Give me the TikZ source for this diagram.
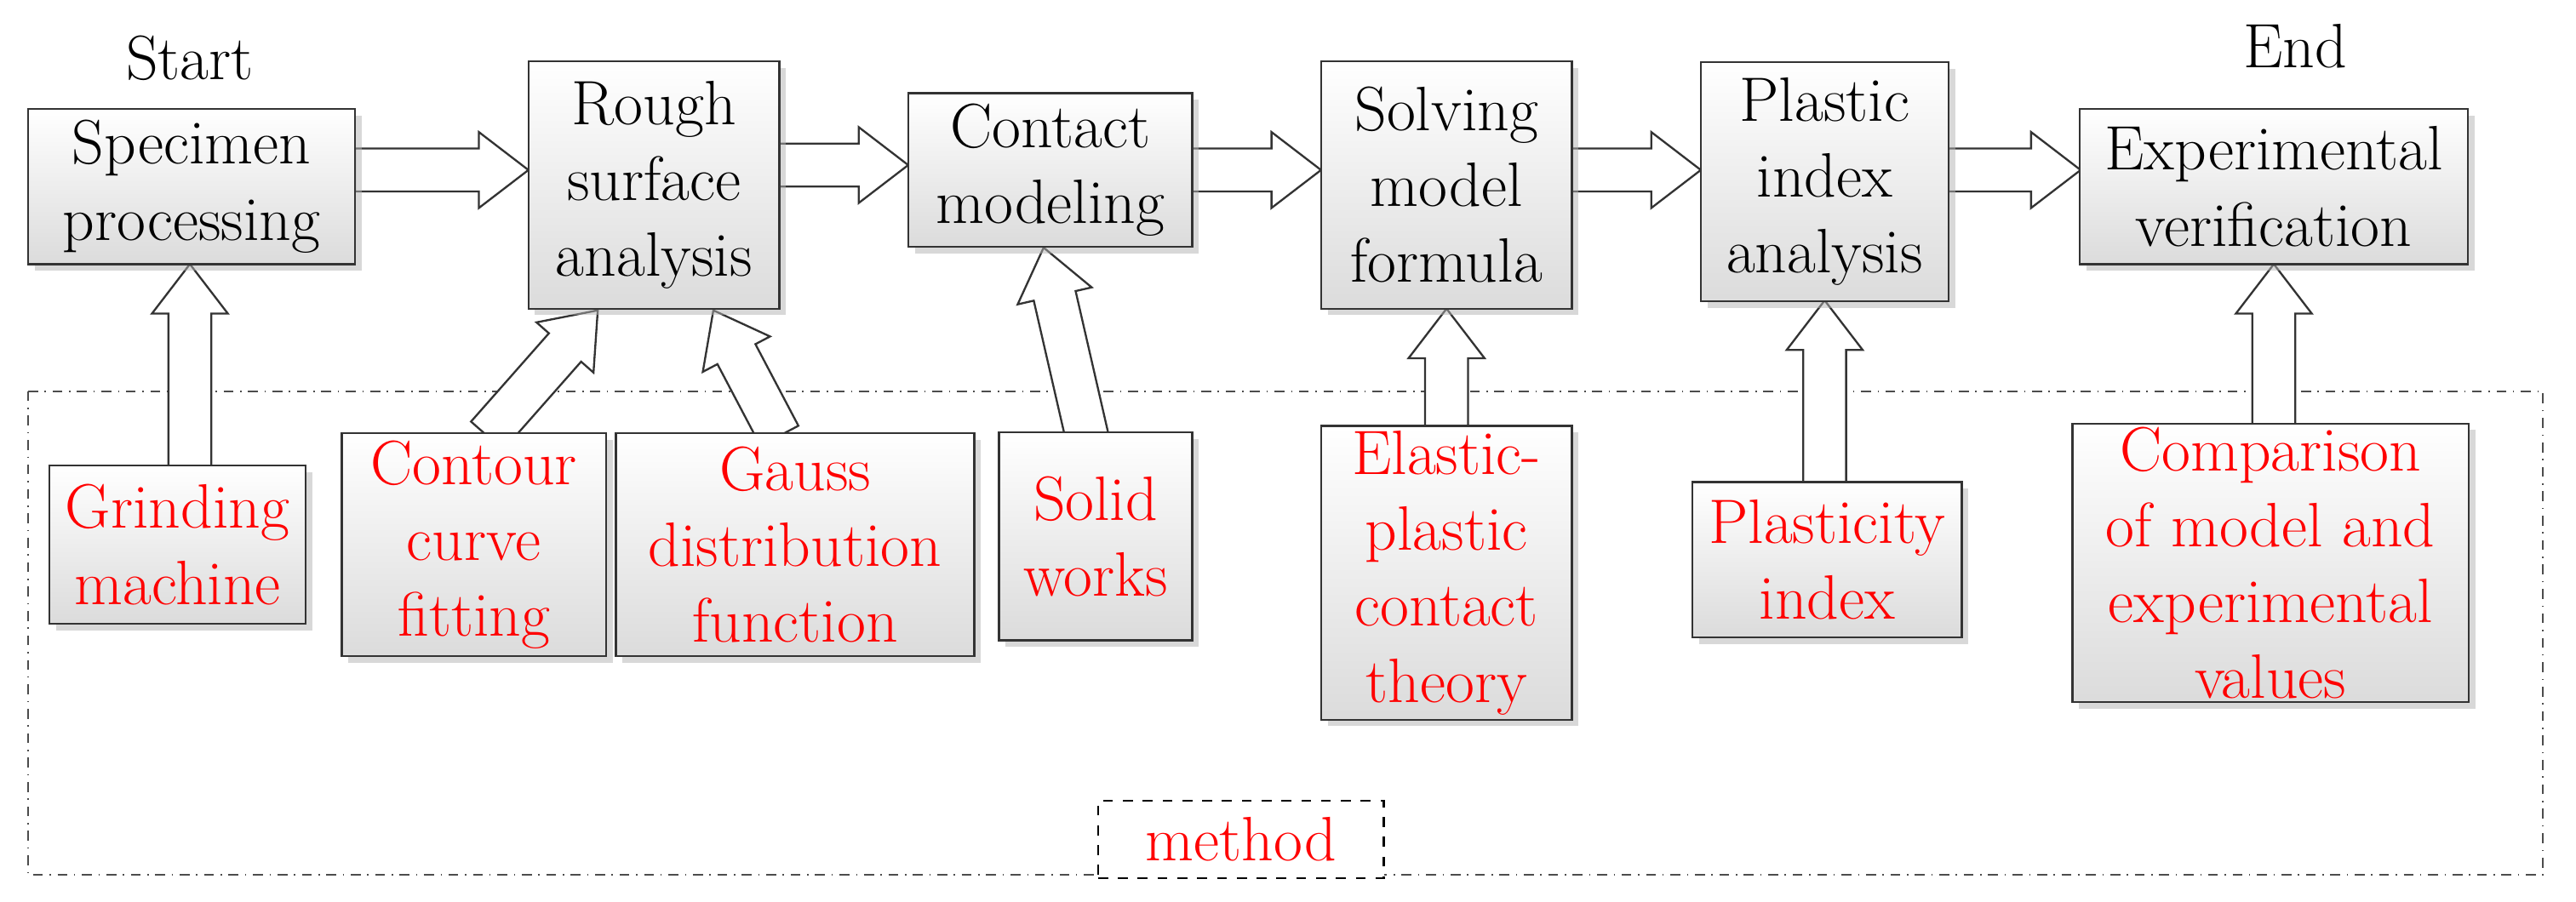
\documentclass[tikz,border=0pt]{standalone}
\usetikzlibrary{calc,shadows}
\begin{document}
\begin{tikzpicture}[x=0.5pt,y=-0.5pt,
  box/.style={draw=black!80, line width=0.6pt, top color=white, bottom color=gray!28,
    drop shadow={shadow xshift=2pt,shadow yshift=-2pt,fill=gray!60},
    align=center, inner sep=1pt, font=\fontsize{19}{23}\selectfont},
  rbox/.style={box, text=red},
  lab/.style={font=\fontsize{19}{23}\selectfont},
  barr/.style={draw=black!80, line width=0.6pt, fill=white}]
\newcommand\barrow[2]{%
  \coordinate (hb) at ($(#2)!15pt!(#1)$);
  \draw[barr] ($(#1)!6.5pt!90:(#2)$) -- ($(hb)!6.5pt!-90:(#1)$) -- ($(hb)!11.5pt!-90:(#1)$) -- (#2)
    -- ($(hb)!11.5pt!90:(#1)$) -- ($(hb)!6.5pt!90:(#1)$) -- ($(#1)!6.5pt!-90:(#2)$) -- cycle;}
\path[use as bounding box] (0,0) rectangle (1560,546.4);
\fill[white] (0,0) rectangle (1560,546.4);
\draw[dash dot, line width=0.4pt, black!70] (17,237) rectangle (1540,530);
% arrow coordinates
\coordinate (a1) at (215,103); \coordinate (a2) at (320,103);
\coordinate (a3) at (472,100); \coordinate (a4) at (550,100);
\coordinate (a5) at (722,103); \coordinate (a6) at (800,103);
\coordinate (a7) at (952,103); \coordinate (a8) at (1030,103);
\coordinate (a9) at (1180,103); \coordinate (a10) at (1260,103);
\coordinate (v1) at (115,283); \coordinate (w1) at (115,160);
\coordinate (v2) at (295,264); \coordinate (w2) at (362,188);
\coordinate (v3) at (472,264); \coordinate (w3) at (432,188);
\coordinate (v4) at (660,272); \coordinate (w4) at (632,150);
\coordinate (v5) at (876,259); \coordinate (w5) at (876,187);
\coordinate (v6) at (1105,293); \coordinate (w6) at (1105,182);
\coordinate (v7) at (1377,259); \coordinate (w7) at (1377,160);
\barrow{a1}{a2}\barrow{a3}{a4}\barrow{a5}{a6}\barrow{a7}{a8}\barrow{a9}{a10}
\barrow{v1}{w1}\barrow{v2}{w2}\barrow{v3}{w3}\barrow{v4}{w4}\barrow{v5}{w5}\barrow{v6}{w6}\barrow{v7}{w7}
% top boxes
\node[box, minimum width=99pt, minimum height=47pt] (s1) at (116,113) {Specimen\\processing};
\node[box, minimum width=76pt, minimum height=75pt] (s2) at (396,112) {Rough\\surface\\analysis};
\node[box, minimum width=86pt, minimum height=46.5pt] (s3) at (636,103) {Contact\\modeling};
\node[box, minimum width=76pt, minimum height=75pt] (s4) at (876,112) {Solving\\model\\formula};
\node[box, minimum width=75pt, minimum height=72.5pt] (s5) at (1105,110) {Plastic\\index\\analysis};
\node[box, minimum width=117.5pt, minimum height=47pt] (s6) at (1377,113) {Experimental\\verification};
\node[lab] (st) at (115,35) {Start};
\node[lab] (en) at (1390,28) {End};
% bottom boxes
\node[rbox, minimum width=77.5pt, minimum height=48pt] (b1) at (107.5,330) {Grinding\\machine};
\node[rbox, minimum width=80pt, minimum height=67.5pt] (b2) at (287,330) {Contour\\curve\\fitting};
\node[rbox, minimum width=108.5pt, minimum height=67.5pt] (b3) at (481.5,330) {Gauss\\distribution\\function};
\node[rbox, minimum width=58.5pt, minimum height=63pt] (b4) at (663.5,325) {Solid\\works};
\node[rbox, minimum width=76pt, minimum height=89pt] (b5) at (876,347) {Elastic-\\plastic\\contact\\theory};
\node[rbox, minimum width=81.5pt, minimum height=47pt] (b6) at (1106.5,339) {Plasticity\\index};
\node[rbox, minimum width=120pt, minimum height=83pt] (b7) at (1375,341) {Comparison\\of model and\\experimental\\values};
\node[draw, dashed, line width=0.6pt, text=red, fill=white, minimum width=86.5pt, minimum height=23.5pt, inner sep=1pt, font=\fontsize{19}{23}\selectfont] (m) at (751.5,508.5) {method};
\end{tikzpicture}
\end{document}
